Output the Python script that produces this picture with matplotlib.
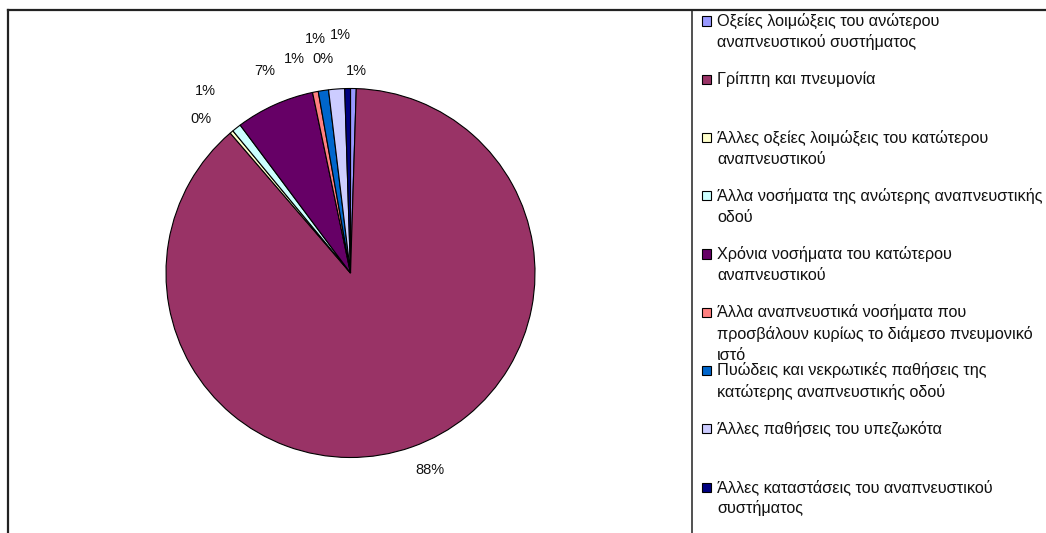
import numpy as np
import matplotlib.pyplot as plt
from matplotlib.patches import Rectangle
from matplotlib.lines import Line2D

plt.rcParams['font.family'] = ['Liberation Sans', 'DejaVu Sans']

categories = [
    'Οξείες λοιμώξεις του ανώτερου\nαναπνευστικού συστήματος',
    'Γρίππη και πνευμονία',
    'Άλλες οξείες λοιμώξεις του κατώτερου\nαναπνευστικού',
    'Άλλα νοσήματα της ανώτερης αναπνευστικής\nοδού',
    'Χρόνια νοσήματα του κατώτερου\nαναπνευστικού',
    'Άλλα αναπνευστικά νοσήματα που\nπροσβάλουν κυρίως το διάμεσο πνευμονικό\nιστό',
    'Πυώδεις και νεκρωτικές παθήσεις της\nκατώτερης αναπνευστικής οδού',
    'Άλλες παθήσεις του υπεζωκότα',
    'Άλλες καταστάσεις του αναπνευστικού\nσυστήματος',
]
shares = [0.5, 88.2, 0.3, 0.8, 6.9, 0.5, 0.9, 1.4, 0.5]
pct_labels = ['1%', '88%', '0%', '1%', '7%', '1%', '0%', '1%', '1%']
colors = ['#9999FF', '#993366', '#FFFFCC', '#CCFFFF', '#660066',
          '#FF8080', '#0066CC', '#CCCCFF', '#000080']

# label placement tweaks (radius factor, angle nudge in degrees) to keep them apart
lab_r = [1.095, 1.15, 1.165, 1.26, 1.19, 1.2, 1.17, 1.285, 1.29]
lab_da = [-0.8, 2.5, 4.0, 0.5, -1.3, 3.7, -1.0, 4.2, 1.5]

W, H = 1046, 533
fig = plt.figure(figsize=(W / 100, H / 100), dpi=100)

# pie axes: centre ~ (350.5, 273) px, radius ~184.5 px
R = 184.5
cx, cy = 350.5, 273
ax = fig.add_axes([(cx - R) / W, 1 - (cy + R) / H, 2 * R / W, 2 * R / H])
wedges, _ = ax.pie(shares, colors=colors, startangle=90, counterclock=False,
                   wedgeprops=dict(edgecolor='black', linewidth=0.8))
ax.set_xlim(-1, 1)
ax.set_ylim(-1, 1)
ax.set_aspect('equal')
ax.axis('off')

for w, txt, rf, da in zip(wedges, pct_labels, lab_r, lab_da):
    ang = np.deg2rad((w.theta1 + w.theta2) / 2 + da)
    ax.text(rf * np.cos(ang), rf * np.sin(ang), txt, ha='center', va='center',
            fontsize=10.5, color='#111111', clip_on=False)

# chart frame and legend border
fx = lambda px: px / W
fy = lambda py: 1 - py / H
fig.add_artist(Line2D([fx(8), 1], [fy(10), fy(10)], color='#222222', lw=1.6))
fig.add_artist(Line2D([fx(8), fx(8)], [fy(10), 0], color='#222222', lw=1.6))
fig.add_artist(Line2D([fx(692), fx(692)], [fy(10), 0], color='#222222', lw=1.1))

# legend, Excel style fixed slots
for i, (lab, col) in enumerate(zip(categories, colors)):
    y0 = 21 + 58.25 * i
    fig.add_artist(Rectangle((fx(702), fy(y0 + 4.5)), 9 / W, 9 / H,
                             facecolor=col, edgecolor='black', lw=0.8))
    for j, line in enumerate(lab.split('\n')):
        fig.text(fx(717), fy(y0 + 21.5 * j), line, ha='left', va='center',
                 fontsize=11.7, color='#111111')

fig.savefig('out.png', dpi=100)
